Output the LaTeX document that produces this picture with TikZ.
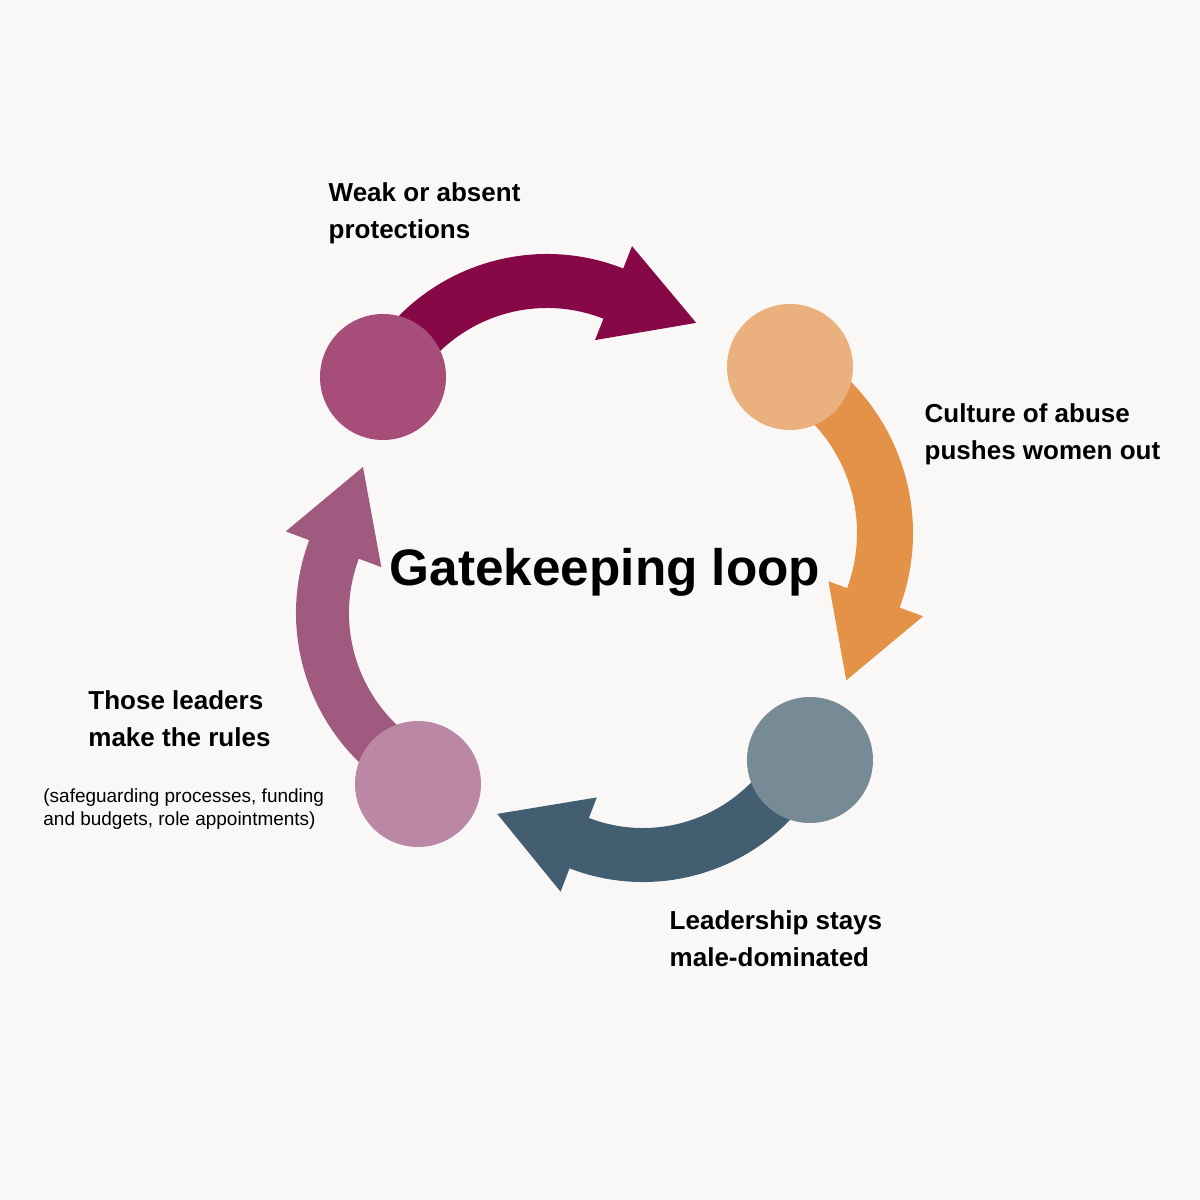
\documentclass[tikz,border=0pt]{standalone}
\usepackage{fontspec}
\setmainfont{Liberation Sans}
\usepackage{tikz}

\tikzset{
  dot/.style={circle, inner sep=0pt, minimum size=1.26cm},
  lbl/.style={anchor=north west, inner sep=0pt, align=left,
              font=\fontsize{7.4pt}{10.5pt}\selectfont\bfseries},
  note/.style={anchor=north west, inner sep=0pt, align=left,
               font=\fontsize{5.4pt}{6.6pt}\selectfont}
}

\begin{document}
\begin{tikzpicture}
\definecolor{paper}{RGB}{249,248,246};
\definecolor{wine}{RGB}{135,8,71};
\definecolor{plum}{RGB}{166,77,121};
\definecolor{peach}{RGB}{234,176,126};
\definecolor{amber}{RGB}{227,146,71};
\definecolor{slate}{RGB}{119,139,151};
\definecolor{darkslate}{RGB}{67,94,112};
\definecolor{mauve}{RGB}{186,136,164};
\definecolor{orchid}{RGB}{160,90,128};
\fill[paper] (0,0) rectangle (12,12);
% centres of the four bent arrows
\coordinate (o1) at (5.47,7.38);
\coordinate (o2) at (6.98,6.67);
\coordinate (o3) at (6.43,5.23);
\coordinate (o4) at (5.04,5.87);
\begin{scope}[shift={(o1)}]
\fill[wine] (152:2.08) arc[start angle=152, end angle=68.5, radius=2.08]
      -- (68.5:2.32) -- (43:2.04) -- (68.5:1.31) -- (68.5:1.54)
      arc[start angle=68.5, end angle=152, radius=1.54] -- cycle;
\end{scope}
\begin{scope}[shift={(o2)}]
\fill[amber] (61:2.15) arc[start angle=61, end angle=-20.3, radius=2.15]
      -- (-20.3:2.40) -- (-44.8:2.09) -- (-20.3:1.39) -- (-20.3:1.59)
      arc[start angle=-20.3, end angle=61, radius=1.59] -- cycle;
\end{scope}
\begin{scope}[shift={(o3)}]
\fill[darkslate] (333.6:2.05) arc[start angle=333.6, end angle=249, radius=2.05]
      -- (249:2.30) -- (223.2:2.00) -- (249:1.29) -- (249:1.51)
      arc[start angle=249, end angle=333.6, radius=1.51] -- cycle;
\end{scope}
\begin{scope}[shift={(o4)}]
\fill[orchid] (243.3:2.08) arc[start angle=243.3, end angle=159.5, radius=2.08]
      -- (159.5:2.33) -- (134:2.03) -- (159.5:1.31) -- (159.5:1.55)
      arc[start angle=159.5, end angle=243.3, radius=1.55] -- cycle;
\end{scope}
% stations of the loop
\node[dot, fill=plum] (weak) at (3.83,8.23) {};
\node[dot, fill=peach] (abuse) at (7.90,8.33) {};
\node[dot, fill=slate] (male) at (8.10,4.40) {};
\node[dot, fill=mauve] (rules) at (4.18,4.16) {};
% labels
\node[lbl] (weakt) at (3.28,10.18) {Weak or absent\\protections};
\node[lbl] (abuset) at (9.24,7.97) {Culture of abuse\\pushes women out};
\node[lbl] (malet) at (6.69,2.90) {Leadership stays\\male-dominated};
\node[lbl] (rulest) at (0.877,5.10) {Those leaders\\make the rules};
\node[note] (rulesn) at (0.427,4.12) {(safeguarding processes, funding\\and budgets, role appointments)};
\node[anchor=base,
      inner sep=0pt,
      font=\fontsize{14.6pt}{17pt}\selectfont\bfseries] (title) at (6.05,6.14) {Gatekeeping loop};
\end{tikzpicture}
\end{document}
